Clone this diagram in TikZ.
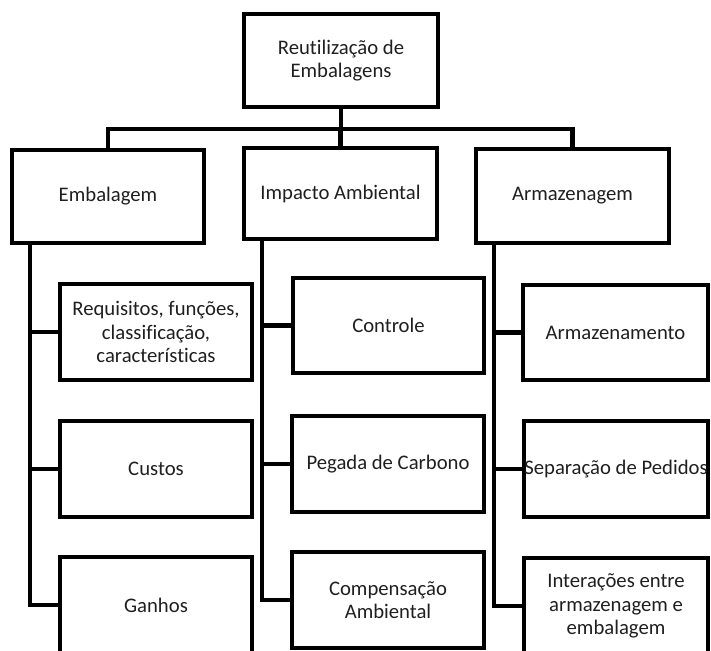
\documentclass[tikz,border=0pt]{standalone}
\usepackage{fontspec}
\setmainfont{Carlito}[Ligatures=NoCommon]
\usetikzlibrary{calc}
\begin{document}
\begin{tikzpicture}[x=1pt,y=-1pt,
  box/.style={draw=black,line width=4.3pt,rectangle,inner sep=0pt,
    align=center,text=black!88,
    font=\fontsize{20.7}{23.5}\selectfont},
  link/.style={draw=black,line width=4.3pt}]
\useasboundingbox (0,0) rectangle (711,650);
\clip (0,0) rectangle (711,650);

% root and first level
\node[box,minimum width=194pt,minimum height=93pt] (top) at (341,60.5) {Reutilização de\\Embalagens};
\node[box,minimum width=192pt,minimum height=93pt] (emb) at (108,196.5) {Embalagem};
\node[box,minimum width=193pt,minimum height=91pt] (imp) at (340.5,193.5) {Impacto Ambiental};
\node[box,minimum width=193pt,minimum height=94pt] (arm) at (572.5,196) {Armazenagem};

% second level: Embalagem
\node[box,minimum width=192pt,minimum height=96pt] (req) at (156,332) {Requisitos, funções,\\classificação,\\características};
\node[box,minimum width=192pt,minimum height=96pt] (cus) at (156,469) {Custos};
\node[box,minimum width=192pt,minimum height=96pt] (gan) at (156,605) {Ganhos};

% second level: Impacto Ambiental
\node[box,minimum width=191pt,minimum height=95pt] (con) at (388.5,325.5) {Controle};
\node[box,minimum width=192pt,minimum height=96pt] (peg) at (388,464) {Pegada de Carbono};
\node[box,minimum width=192pt,minimum height=96pt] (comp) at (388,600) {Compensação\\Ambiental};

% second level: Armazenagem
\node[box,minimum width=185pt,minimum height=95pt] (armz) at (615.5,332.5) {Armazenamento};
\node[box,minimum width=184pt,minimum height=96pt] (sep) at (616,469) {Separação de Pedidos};
\node[box,minimum width=184pt,minimum height=96pt] (int) at (616,606) {Interações entre\\armazenagem e\\embalagem};

% connectors from the root
\coordinate (bar) at ($(top.south)+(0,20)$);
\draw[link] (emb.north) |- (bar) -| (arm.north);
\draw[link] (top.south) -- (bar);
\draw[link] (imp.north) -- (imp.north |- bar);

% trunks of each branch
\coordinate (te) at ($(emb.south west)+(20,0)$);
\coordinate (ti) at ($(imp.south west)+(20,0)$);
\coordinate (ta) at ($(arm.south west)+(20,0)$);
\draw[link] (te) |- (gan.west);
\draw[link] (req.west) -- (req.west -| te);
\draw[link] (cus.west) -- (cus.west -| te);
\draw[link] (ti) |- (comp.west);
\draw[link] (con.west) -- (con.west -| ti);
\draw[link] (peg.west) -- (peg.west -| ti);
\draw[link] (ta) |- (int.west);
\draw[link] (armz.west) -- (armz.west -| ta);
\draw[link] (sep.west) -- (sep.west -| ta);
\end{tikzpicture}
\end{document}
